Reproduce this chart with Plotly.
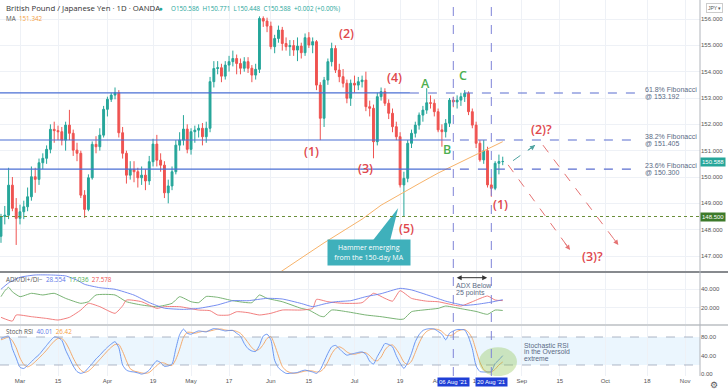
import pandas as pd
import plotly.graph_objects as go
from plotly.subplots import make_subplots

# ------------------------------------------------------------------ data
bar_dates = pd.bdate_range("2021-02-22", "2021-08-25")  # daily bars (Mon-Fri)

opens = [
    147.75, 148.50, 148.55, 149.69, 148.81,
    148.43, 148.68, 148.87, 149.25, 150.01, 149.91, 150.54, 150.71, 151.05, 151.81, 151.76, 151.72,
    151.40, 151.97, 151.66, 151.02, 150.90, 149.31, 148.77, 149.97, 151.24, 151.15, 151.59,
    152.57, 152.95, 153.11, 153.20, 151.68, 150.90, 150.07, 150.29, 150.20, 149.97, 150.07, 149.85,
    150.58, 151.25, 150.64, 150.45, 149.40, 149.66, 150.20, 151.21, 151.40, 151.82,
    151.05, 151.72, 151.78, 151.85, 151.53, 151.85, 153.62, 154.12, 154.15, 153.83, 154.25, 154.38,
    154.50, 154.31, 154.13, 154.38, 154.13, 153.87, 154.09, 156.02, 155.92,
    155.73, 154.95, 155.26, 155.58, 155.07, 154.95, 154.99, 154.82, 154.97, 154.72, 155.29, 155.01,
    155.14, 153.49, 152.23, 153.68, 154.38, 154.88, 154.06, 153.81, 153.56, 152.99,
    153.56, 153.49, 153.62, 153.68, 152.67, 152.61, 151.34, 153.05, 153.24, 152.80, 152.42, 151.91,
    151.53, 149.70, 149.95, 151.28, 151.66, 151.97, 152.35, 152.54, 152.82, 152.80,
    152.48, 151.79, 151.72, 152.04, 152.92, 152.85, 152.92, 153.05, 153.18, 152.48, 151.97, 151.28,
    150.65, 151.00, 149.70, 149.57, 150.52, 150.586,
]
highs = [
    148.60, 148.90, 150.35, 150.00, 149.20,
    148.95, 149.10, 149.60, 150.40, 150.35, 150.70, 150.90, 151.20, 152.00, 152.10, 151.95, 151.90,
    152.10, 152.55, 151.80, 151.30, 151.00, 149.50, 150.10, 151.35, 151.55, 151.85, 152.70,
    153.05, 153.20, 153.40, 153.30, 151.90, 151.00, 150.60, 150.60, 150.35, 150.40, 150.30, 150.80,
    151.45, 151.60, 150.90, 150.60, 149.90, 150.40, 151.40, 151.70, 152.35, 152.00,
    151.85, 151.95, 152.00, 152.05, 152.10, 153.80, 154.40, 154.40, 154.30, 154.40, 154.60, 154.80,
    154.65, 154.50, 154.55, 154.55, 154.25, 154.30, 156.10, 156.10, 156.05,
    155.90, 155.40, 155.75, 155.70, 155.30, 155.20, 155.20, 155.30, 155.10, 155.45, 155.50, 155.30,
    155.20, 153.60, 153.80, 154.50, 155.10, 155.00, 154.30, 154.10, 153.70, 153.70,
    153.85, 153.80, 153.85, 154.00, 152.90, 152.75, 153.20, 153.40, 153.37, 152.95, 152.60, 152.10,
    151.70, 150.20, 151.40, 151.80, 152.10, 152.45, 152.70, 153.37, 153.10, 152.95,
    152.60, 152.00, 152.20, 153.00, 153.05, 153.10, 153.20, 153.30, 153.25, 152.60, 152.10, 151.40,
    151.40, 151.15, 150.00, 150.60, 150.85, 150.771,
]
lows = [
    147.50, 148.20, 148.40, 148.70, 147.42,
    148.20, 148.40, 148.70, 149.10, 149.40, 149.70, 150.30, 150.50, 150.90, 151.30, 151.40, 151.20,
    151.00, 151.40, 150.80, 150.60, 149.20, 148.45, 148.70, 149.90, 150.90, 151.00, 151.50,
    152.30, 152.85, 152.95, 151.50, 150.70, 149.75, 149.90, 149.80, 149.60, 149.70, 149.50, 149.70,
    150.40, 150.40, 150.20, 149.20, 149.00, 149.50, 150.10, 151.00, 151.20, 150.90,
    150.85, 151.30, 151.50, 151.20, 151.30, 151.70, 153.40, 153.90, 153.60, 153.70, 154.00, 154.20,
    153.90, 153.90, 154.00, 153.95, 153.60, 153.70, 153.95, 155.70, 155.50,
    154.85, 154.70, 155.10, 154.80, 154.80, 154.60, 154.60, 154.40, 154.50, 154.60, 154.90, 154.70,
    153.30, 151.40, 151.90, 153.50, 154.20, 153.95, 153.60, 153.40, 152.80, 152.70,
    153.20, 153.30, 153.40, 152.50, 152.30, 150.71, 151.20, 152.90, 152.70, 152.20, 151.70, 151.40,
    149.60, 148.50, 149.80, 151.10, 151.50, 151.80, 152.10, 152.40, 152.60, 152.30,
    151.70, 151.15, 151.50, 151.90, 152.65, 152.60, 152.70, 152.85, 152.35, 151.85, 151.10, 150.58,
    150.50, 149.60, 149.25, 149.50, 150.10, 150.448,
]
closes = [
    148.50, 148.55, 149.69, 148.81, 148.43,
    148.68, 148.87, 149.25, 150.01, 149.91, 150.54, 150.71, 151.05, 151.81, 151.76, 151.72, 151.40,
    151.97, 151.66, 151.02, 150.90, 149.31, 148.77, 149.97, 151.24, 151.15, 151.59, 152.57,
    152.95, 153.11, 153.20, 151.68, 150.90, 150.07, 150.29, 150.20, 149.97, 150.07, 149.85, 150.58,
    151.25, 150.64, 150.45, 149.40, 149.66, 150.20, 151.21, 151.40, 151.82, 151.05,
    151.72, 151.78, 151.85, 151.53, 151.85, 153.62, 154.12, 154.15, 153.83, 154.25, 154.38, 154.50,
    154.31, 154.13, 154.38, 154.13, 153.87, 154.09, 156.02, 155.92, 155.73,
    154.95, 155.26, 155.58, 155.07, 154.95, 154.99, 154.82, 154.97, 154.72, 155.29, 155.01, 155.14,
    153.49, 152.23, 153.68, 154.38, 154.88, 154.06, 153.81, 153.56, 152.99, 153.56,
    153.49, 153.62, 153.68, 152.67, 152.61, 151.34, 153.05, 153.24, 152.80, 152.42, 151.91, 151.53,
    149.70, 149.95, 151.28, 151.66, 151.97, 152.35, 152.54, 152.82, 152.80, 152.48,
    151.79, 151.72, 152.04, 152.92, 152.85, 152.92, 153.05, 153.18, 152.48, 151.97, 151.28, 150.65,
    151.00, 149.70, 149.57, 150.52, 150.586, 150.588,
]

# 150-day moving average (read at a few bars; index = bars after 1 Mar)
ma_idx = [66, 70, 75, 80, 85, 90, 95, 100, 105, 110, 115, 120, 125, 127]
ma_val = [146.15, 146.55, 147.02, 147.50, 147.95, 148.40, 148.93, 149.35, 149.75,
          150.15, 150.50, 150.85, 151.20, 151.342]

# ADX / DI+ / DI-
adx_idx = [-5, -3, 0, 4, 8, 12, 15, 17, 21, 25, 30, 34, 38, 43, 47, 52, 56, 60, 65, 69,
           74, 77, 80, 83, 87, 91, 95, 100, 103, 108, 112, 114, 117, 120, 124, 127]
adx_val = [39.7, 46.5, 52.5, 55, 55, 54, 49.5, 45, 41.4, 39.7, 33.5, 25.5, 19.5, 18.2, 19.3,
           23, 27.5, 27.5, 30, 29.3, 24.5, 21.1, 24, 26.4, 27.5, 31.8, 35, 40.7, 39, 32.5,
           27, 25, 22.5, 23.5, 26, 28.554]
dip_idx = [-5, -4, -3, -2, 0, 3, 6, 9, 12, 16, 18, 20, 25, 28, 32, 36, 40, 42, 45, 47, 49,
           52, 56, 61, 63, 65, 69, 74, 76, 79, 80, 82, 86, 91, 95, 100, 101, 103, 106, 110,
           112, 114, 117, 120, 123, 125, 127]
dip_val = [31.8, 38, 41.8, 37, 31.8, 35.4, 33.6, 35.4, 30, 24.7, 26.4, 33.6, 33.6, 26.4,
           22.9, 21.1, 24.7, 31.8, 26.4, 25.4, 32, 31.1, 27.5, 25.4, 33.6, 30, 26.4, 19.3,
           17.5, 11, 10.4, 17.5, 15.7, 12.2, 10.4, 7.5, 8, 15.7, 17.5, 19.3, 21.8, 20.5, 18.2,
           16, 12.9, 17.5, 17.036]
dim_idx = [-5, -2, -1, 3, 7, 10, 13, 16, 18, 21, 25, 27, 28, 32, 36, 38, 42, 47, 50, 52,
           55, 57, 60, 63, 66, 69, 74, 77, 78, 81, 85, 90, 93, 96, 98, 100, 103, 107, 110,
           112, 116, 119, 123, 125, 127]
dim_val = [9.7, 5.7, 12.2, 10.4, 8.5, 6.8, 9.7, 17.5, 24.7, 21.1, 14, 22, 28.2, 26.4, 19.3,
           21.1, 21.1, 17.5, 16.8, 12.2, 12.2, 15.7, 14.7, 12.2, 14, 17.5, 17.5, 19.3, 28.9,
           26.4, 24.7, 25.4, 35.4, 30, 27, 38.2, 30, 27, 26.4, 24.7, 21.8, 26.4, 32.5, 28.2,
           27.578]

# Stochastic RSI (one value per bar)
stoch_k = [
    77, 80, 82, 55, 35,
    15, 12.6, 19, 27, 35, 42, 52, 62, 72, 80, 79, 73, 52, 35, 18, 6, 2, 5, 14, 23, 33, 41, 50,
    58, 65, 70, 57, 20, 9, 6, 5, 3, 0.5, 3, 9, 20, 29, 25, 17, 18, 22, 55, 85, 97, 88,
    86, 90, 93, 92, 91, 95, 98, 97, 95, 93, 94, 94, 88, 82, 66, 55, 50, 49, 62, 82, 86,
    74, 30, 14, 7, 2, 2, 3, 4, 7, 9, 7, 5, 2, 10, 27, 45, 59, 62, 55, 47, 41, 43,
    45, 47, 48, 43, 28, 22, 38, 52, 66, 64, 59, 40, 24, 12.6, 25, 45, 70, 85, 94, 97, 98, 97,
    92, 86, 74, 88, 93, 96, 96, 95, 80, 55, 18, 6, 5, 5, 6, 23, 31, 40.01,
]
stoch_d = [
    74, 77, 80, 72, 57,
    35, 21, 16, 20, 27, 35, 43, 52, 62, 71, 77, 77, 68, 53, 35, 20, 9, 4, 7, 14, 23, 32, 41,
    50, 58, 64, 64, 49, 29, 12, 7, 5, 3, 2, 4, 11, 19, 25, 24, 20, 19, 32, 54, 79, 90,
    90, 88, 90, 92, 92, 93, 95, 97, 97, 95, 94, 94, 92, 88, 79, 68, 57, 51, 54, 64, 77,
    81, 63, 39, 17, 8, 4, 2, 3, 5, 7, 8, 7, 5, 6, 13, 27, 44, 55, 59, 55, 48, 44,
    43, 45, 47, 46, 40, 31, 29, 37, 52, 61, 63, 54, 41, 26, 21, 28, 47, 67, 83, 92, 96, 97,
    96, 92, 84, 83, 85, 92, 95, 96, 90, 77, 51, 26, 10, 5, 5, 11, 20, 26.42,
]

fib_levels = [153.192, 151.405, 150.300]
fib_names = ["61.8% Fibonacci", "38.2% Fibonacci", "23.6% Fibonacci"]
fib_solid_end = ["2021-07-21 14:00", "2021-08-03 00:00", "2021-08-03 00:00"]
fib_dash_end = "2021-10-12 19:00"
support_level = 148.5

tick_dates = ["2021-03-01", "2021-03-15", "2021-04-01", "2021-04-19", "2021-05-03",
              "2021-05-17", "2021-06-01", "2021-06-15", "2021-07-01", "2021-07-19",
              "2021-08-02", "2021-08-16", "2021-09-01", "2021-09-15", "2021-10-01",
              "2021-10-18", "2021-11-01"]
tick_text = ["Mar", "15", "Apr", "19", "May", "17", "Jun", "15", "Jul", "19",
             "Aug", "16", "Sep", "15", "Oct", "18", "Nov"]

# ------------------------------------------------------------------ styles
GREEN = "#26a69a"
RED = "#ef5350"
WAVE_RED = "#e0474c"
ABC_GREEN = "#4caf50"
FIB_BLUE = "#5b6ed0"
LINE_BLUE = "#4a6fd4"
TXT = "#5a6a85"
FONT = "Open Sans"
AXFONT = "Liberation Sans"
X_START = "2021-02-19 17:45"
X_END = "2021-11-04 21:36"


def d(i):
    return bar_dates[i + 5]


W, H = 728, 391
MT, MB, ML, MR = 0, 15, 0, 28
PH = H - MT - MB          # 376
PW = W - ML - MR          # 700


def px(x):
    return x / PW


def py(y):
    return 1 - y / PH


fig = make_subplots(rows=3, cols=1, shared_xaxes=True, vertical_spacing=0)

fig.add_trace(go.Candlestick(
    x=bar_dates, open=opens, high=highs, low=lows, close=closes,
    increasing=dict(line=dict(color=GREEN, width=1), fillcolor=GREEN),
    decreasing=dict(line=dict(color=RED, width=1), fillcolor=RED),
    whiskerwidth=0, showlegend=False, hoverinfo="skip"), row=1, col=1)
fig.add_trace(go.Scatter(x=[d(i) for i in ma_idx], y=ma_val, mode="lines",
                         line=dict(color="#f7b36a", width=1), showlegend=False,
                         hoverinfo="skip"), row=1, col=1)

# ADX panel
fig.add_trace(go.Scatter(x=[d(i) for i in dip_idx], y=dip_val, mode="lines",
                         line=dict(color="#6aaa64", width=0.9, shape="spline", smoothing=0.5),
                         showlegend=False, hoverinfo="skip"), row=2, col=1)
fig.add_trace(go.Scatter(x=[d(i) for i in dim_idx], y=dim_val, mode="lines",
                         line=dict(color="#ef6f6f", width=0.9, shape="spline", smoothing=0.5),
                         showlegend=False, hoverinfo="skip"), row=2, col=1)
fig.add_trace(go.Scatter(x=[d(i) for i in adx_idx], y=adx_val, mode="lines",
                         line=dict(color="#6680ee", width=0.9, shape="spline", smoothing=0.5),
                         showlegend=False, hoverinfo="skip"), row=2, col=1)

# Stoch RSI panel
fig.add_trace(go.Scatter(x=bar_dates, y=stoch_d, mode="lines",
                         line=dict(color="#f4a15d", width=0.9, shape="spline", smoothing=0.6),
                         showlegend=False, hoverinfo="skip"), row=3, col=1)
fig.add_trace(go.Scatter(x=bar_dates, y=stoch_k, mode="lines",
                         line=dict(color="#5d8cf0", width=0.9, shape="spline", smoothing=0.6),
                         showlegend=False, hoverinfo="skip"), row=3, col=1)

# hammer call-out pointer
fig.add_trace(go.Scatter(x=["2021-07-07 22:00", "2021-07-14 10:00", "2021-07-16 12:00"],
                         y=[147.61, 147.61, 148.82], mode="lines", fill="toself",
                         fillcolor="#3fb0bb", line=dict(width=0, color="#3fb0bb"),
                         showlegend=False, hoverinfo="skip"), row=1, col=1)

# projected paths (dashed)
paths = [
    (["2021-08-27 17:00", "2021-09-06 12:00"], [150.62, 151.21], "#4fa3a0"),
    (["2021-08-26 10:00", "2021-09-17 17:00"], [150.46, 147.23], "#e57373"),
    (["2021-09-08 14:00", "2021-10-06 10:00"], [151.21, 147.42], "#e57373"),
]
for xs, ys, col in paths:
    fig.add_trace(go.Scatter(x=xs, y=ys, mode="lines",
                             line=dict(color=col, width=1, dash="dash"),
                             showlegend=False, hoverinfo="skip"), row=1, col=1)

# ------------------------------------------------------------------ layout
dom_main = [py(271), 1]
dom_adx = [py(324), py(273)]
dom_st = [0, py(326)]

grid = "#eef1f6"
axfont = dict(family=AXFONT, size=6, color="#555")
rb = [dict(bounds=["sat", "mon"])]
for i in (1, 2, 3):
    fig.update_layout(**{f"xaxis{'' if i == 1 else i}": dict(
        range=[X_START, X_END], rangebreaks=rb, showgrid=True, gridcolor=grid,
        gridwidth=1, tickvals=tick_dates, ticktext=tick_text, showticklabels=(i == 3),
        tickfont=axfont, ticks="", zeroline=False, showline=False, automargin=False,
        rangeslider=dict(visible=False), fixedrange=True)})

# vertical scales from pixel readings: price 156 @ y19, 147 @ y256
fig.update_layout(
    yaxis=dict(domain=dom_main, range=[146.4304, 156.7215], side="right", dtick=1, tick0=0,
               tickformat=".3f", tickfont=axfont, showgrid=True, gridcolor=grid,
               zeroline=False, automargin=False, ticks="", fixedrange=True),
    yaxis2=dict(domain=dom_adx, range=[2.57, 57.11], side="right", tickvals=[20, 40],
                tickformat=".3f", tickfont=axfont, showgrid=True, gridcolor=grid,
                zeroline=False, automargin=False, ticks="", fixedrange=True),
    yaxis3=dict(domain=dom_st, range=[-3.6, 103.6], side="right", tickvals=[0, 40, 80],
                tickformat=".2f", tickfont=axfont, showgrid=False,
                zeroline=False, automargin=False, ticks="", fixedrange=True),
    width=W, height=H, margin=dict(t=MT, b=MB, l=ML, r=MR, autoexpand=False),
    paper_bgcolor="white", plot_bgcolor="white", showlegend=False,
    font=dict(family=FONT), hovermode=False,
)

shapes = []
for lvl, send in zip(fib_levels, fib_solid_end):
    shapes.append(dict(type="line", xref="x", yref="y", x0=X_START, x1=send, y0=lvl, y1=lvl,
                       line=dict(color=LINE_BLUE, width=1.2)))
    shapes.append(dict(type="line", xref="x", yref="y", x0=send, x1=fib_dash_end, y0=lvl,
                       y1=lvl, line=dict(color=FIB_BLUE, width=1.1, dash="dash")))
shapes.append(dict(type="line", xref="paper", yref="y", x0=0, x1=1, y0=support_level,
                   y1=support_level, line=dict(color="#6b8e3a", width=1, dash="dot")))
shapes.append(dict(type="rect", xref="paper", yref="y3", x0=0, x1=1, y0=20, y1=80,
                   fillcolor="rgba(33,150,243,0.09)", line=dict(width=0), layer="below"))
for lv in (20, 80):
    shapes.append(dict(type="line", xref="paper", yref="y3", x0=0, x1=1, y0=lv, y1=lv,
                       line=dict(color="#9aa4b8", width=0.8, dash="dash")))
shapes.append(dict(type="circle", xref="x3", yref="y3", x0="2021-08-16 18:00",
                   x1="2021-08-30 18:00", y0=-4, y1=58,
                   fillcolor="rgba(139,195,74,0.35)", line=dict(width=0)))
for vd in ("2021-08-06", "2021-08-20"):
    shapes.append(dict(type="line", xref="x", yref="paper", x0=vd, x1=vd, y0=0, y1=1,
                       line=dict(color="#7f84d8", width=1, dash="dash")))
shapes.append(dict(type="line", xref="paper", yref="paper", x0=0, x1=W / PW, y0=py(272),
                   y1=py(272), line=dict(color="#5f6368", width=1.6)))
shapes.append(dict(type="line", xref="paper", yref="paper", x0=0, x1=W / PW, y0=py(325),
                   y1=py(325), line=dict(color="#9aa0a6", width=1.2)))
shapes.append(dict(type="line", xref="paper", yref="paper", x0=1, x1=1, y0=0, y1=1,
                   line=dict(color="#b0b4bb", width=1)))
fig.update_layout(shapes=shapes)

ann = []


def txt(x, y, s, size=7, color=TXT, xanchor="left", family=FONT, **kw):
    ann.append(dict(xref="paper", yref="paper", x=px(x), y=py(y), text=s, showarrow=False,
                    xanchor=xanchor, yanchor="middle",
                    font=dict(family=family, size=size, color=color), **kw))


txt(4, 8, "British Pound / Japanese Yen · 1D · OANDA", size=7.8, color="#333")
txt(157, 8, "●", size=6.5, color=GREEN)
txt(169, 8, "O150.586  H150.771  L150.448  C150.588  +0.002 (+0.00%)", size=6.3, color=GREEN)
txt(4, 19, "MA  <span style='color:#f5a040'>151.342</span>", size=6.3, color="#555")
txt(4, 279.5, "ADX/DI+/DI−  <span style='color:#5b78e8'>28.554</span>  "
    "<span style='color:#4caf50'>17.036</span>  <span style='color:#ef5350'>27.578</span>",
    size=6.3, color="#555")
txt(4, 331.5, "Stoch RSI  <span style='color:#5b78e8'>40.01</span>  "
    "<span style='color:#f5a040'>26.42</span>", size=6.3, color="#555")

waves = [
    ("(1)", "2021-06-15 19:00", 150.96, WAVE_RED),
    ("(2)", "2021-06-28 19:00", 155.46, WAVE_RED),
    ("(3)", "2021-07-05 19:00", 150.33, WAVE_RED),
    ("(4)", "2021-07-15 12:00", 153.77, WAVE_RED),
    ("(5)", "2021-07-20 19:00", 148.05, WAVE_RED),
    ("A", "2021-07-27 14:00", 153.56, ABC_GREEN),
    ("B", "2021-08-04 07:00", 151.05, ABC_GREEN),
    ("C", "2021-08-10 12:00", 153.84, ABC_GREEN),
    ("(1)", "2021-08-24 12:00", 148.97, WAVE_RED),
    ("(2)?", "2021-09-08 07:00", 151.82, WAVE_RED),
    ("(3)?", "2021-09-27 12:00", 146.98, WAVE_RED),
]
for t, xd, yv, col in waves:
    ann.append(dict(xref="x", yref="y", x=xd, y=yv, text=t, showarrow=False,
                    font=dict(family=FONT, size=12.5, color=col, weight=600)))

for lvl, name in zip(fib_levels, fib_names):
    ann.append(dict(xref="x", yref="y", x="2021-10-14 22:00", y=lvl, text=name,
                    showarrow=False, xanchor="left", yanchor="middle", yshift=3.5,
                    font=dict(family=AXFONT, size=7, color=TXT)))
    ann.append(dict(xref="x", yref="y", x="2021-10-14 22:00", y=lvl,
                    text=f"@ {lvl:.3f}", showarrow=False, xanchor="left",
                    yanchor="middle", yshift=-3.5, font=dict(family=AXFONT, size=7, color=TXT)))

ann.append(dict(xref="x", yref="y", x="2021-07-06 19:00", y=147.13,
                text="Hammer emerging<br>from the 150-day MA", showarrow=False,
                bgcolor="#3fb0bb", font=dict(family=FONT, size=7, color="white"),
                width=76, height=19, borderpad=3, align="center"))

heads = [("2021-09-06 12:00", 151.21, -8, 6, "#4fa3a0"),
         ("2021-09-17 17:00", 147.23, -6, -8, "#e57373"),
         ("2021-10-06 10:00", 147.42, -6, -8, "#e57373")]
for xd, yv, ax, ay, col in heads:
    ann.append(dict(xref="x", yref="y", x=xd, y=yv, ax=ax, ay=ay, text="", showarrow=True,
                    arrowhead=2, arrowsize=1, arrowwidth=1, arrowcolor=col))

ann.append(dict(xref="x2", yref="y2", x="2021-08-18 22:00", y=52.1, ax=-32, ay=0, text="",
                showarrow=True, arrowhead=2, startarrowhead=2, arrowside="end+start",
                arrowsize=1, arrowwidth=1, arrowcolor="#333"))
txt(454, 285, "ADX Below", size=7, color=TXT, family=AXFONT)
txt(454, 292.5, "25 points", size=7, color=TXT, family=AXFONT)

txt(522, 345, "Stochastic RSI", size=6.8, color=TXT, family=AXFONT)
txt(522, 351.8, "in the Oversold", size=6.8, color=TXT, family=AXFONT)
txt(522, 358.6, "extreme", size=6.8, color=TXT, family=AXFONT)

ann.append(dict(xref="paper", yref="y", x=1, y=closes[-1], text="150.588", showarrow=False,
                xanchor="left", yanchor="middle", bgcolor=GREEN, borderpad=1,
                font=dict(family=AXFONT, size=6, color="white")))
ann.append(dict(xref="paper", yref="y", x=1, y=support_level, text="148.500",
                showarrow=False, xanchor="left", yanchor="middle", bgcolor="#3d7a2a",
                borderpad=1, font=dict(family=AXFONT, size=6, color="white")))
ann.append(dict(xref="paper", yref="paper", x=px(714), y=py(8), text="JPY ▾",
                showarrow=False, xanchor="center", yanchor="middle", bordercolor="#ccc",
                borderwidth=1, borderpad=1, font=dict(family=AXFONT, size=5, color="#555")))
ann.append(dict(xref="paper", yref="paper", x=px(714), y=0, yshift=-8, text="⚙",
                showarrow=False, xanchor="center", yanchor="middle",
                font=dict(size=9, color="#555")))

for vd, lab in (("2021-08-06", "06 Aug '21"), ("2021-08-20", "20 Aug '21")):
    ann.append(dict(xref="x3", yref="paper", x=vd, y=0, yshift=-1, text=lab,
                    showarrow=False, xanchor="center", yanchor="top", bgcolor="#1f3fd6",
                    borderpad=1, font=dict(family=AXFONT, size=6, color="white")))

fig.update_layout(annotations=ann)
fig.write_html("out.html", config={"displayModeBar": False, "staticPlot": True},
               post_script="document.body.style.margin='0';document.body.style.overflow='hidden';")
